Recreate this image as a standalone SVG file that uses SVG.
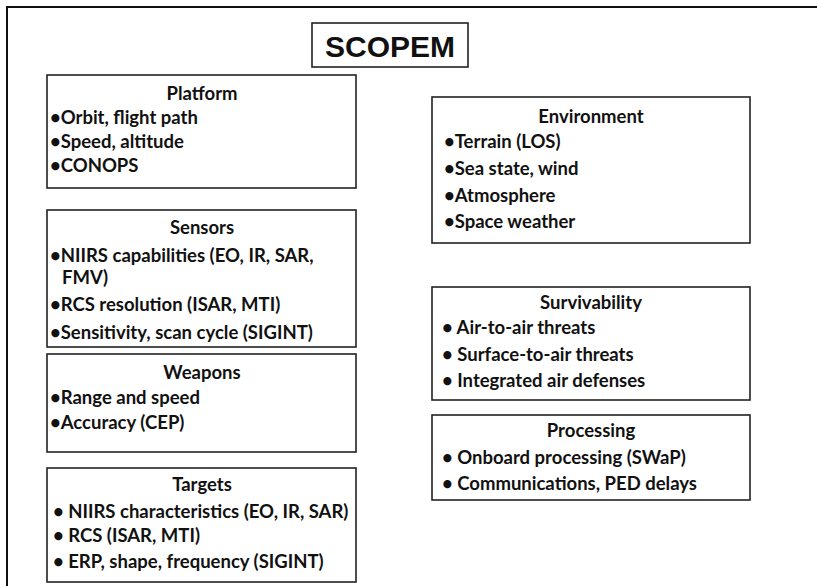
<svg xmlns="http://www.w3.org/2000/svg" width="817" height="586" viewBox="0 0 817 586">
<style>
.frame{fill:none;stroke:#111;stroke-width:2}
.box{fill:#fff;stroke:#222;stroke-width:1.6}
.h{font-family:Lato,"Liberation Sans",sans-serif;font-weight:bold;font-size:18.5px;fill:#111;text-anchor:middle}
.t{font-family:Lato,"Liberation Sans",sans-serif;font-weight:bold;font-size:18.5px;fill:#111}
.title{font-family:"Liberation Sans",Arial,sans-serif;font-weight:bold;font-size:30px;fill:#111;text-anchor:middle}
</style>
<rect x="0" y="0" width="817" height="586" fill="#fff"/>
<rect class="frame" x="7" y="7" width="830" height="600"/>
<g id="scopem">
<rect class="box" x="312" y="23" width="156" height="44"/>
<text class="title" x="390" y="57">SCOPEM</text>
</g>
<g id="platform">
<rect class="box" x="47" y="75" width="309" height="113"/>
<text class="h" x="202" y="100">Platform</text>
<text class="t" x="50" y="124">•Orbit, flight path</text>
<text class="t" x="50" y="148">•Speed, altitude</text>
<text class="t" x="50" y="172">•CONOPS</text>
</g>
<g id="sensors">
<rect class="box" x="47" y="210" width="309" height="137"/>
<text class="h" x="202" y="234">Sensors</text>
<text class="t" x="50" y="262">•NIIRS capabilities (EO, IR, SAR,</text>
<text class="t" x="62" y="284">FMV)</text>
<text class="t" x="50" y="311">•RCS resolution (ISAR, MTI)</text>
<text class="t" x="50" y="339">•Sensitivity, scan cycle (SIGINT)</text>
</g>
<g id="weapons">
<rect class="box" x="47" y="354" width="309" height="98"/>
<text class="h" x="202" y="379">Weapons</text>
<text class="t" x="50" y="404">•Range and speed</text>
<text class="t" x="50" y="429">•Accuracy (CEP)</text>
</g>
<g id="targets">
<rect class="box" x="47" y="468" width="309" height="114"/>
<text class="h" x="202" y="491">Targets</text>
<text class="t" x="53" y="518">• NIIRS characteristics (EO, IR, SAR)</text>
<text class="t" x="53" y="542">• RCS (ISAR, MTI)</text>
<text class="t" x="53" y="568">• ERP, shape, frequency (SIGINT)</text>
</g>
<g id="environment">
<rect class="box" x="432" y="97" width="318" height="146"/>
<text class="h" x="591" y="123">Environment</text>
<text class="t" x="444" y="148">•Terrain (LOS)</text>
<text class="t" x="444" y="175">•Sea state, wind</text>
<text class="t" x="444" y="202">•Atmosphere</text>
<text class="t" x="444" y="228">•Space weather</text>
</g>
<g id="survivability">
<rect class="box" x="432" y="287" width="318" height="113"/>
<text class="h" x="591" y="309">Survivability</text>
<text class="t" x="442" y="334">• Air-to-air threats</text>
<text class="t" x="442" y="361">• Surface-to-air threats</text>
<text class="t" x="442" y="387">• Integrated air defenses</text>
</g>
<g id="processing">
<rect class="box" x="432" y="415" width="318" height="85"/>
<text class="h" x="591" y="437">Processing</text>
<text class="t" x="442" y="464">• Onboard processing (SWaP)</text>
<text class="t" x="442" y="490">• Communications, PED delays</text>
</g>
<g id="connectors"/>
</svg>
